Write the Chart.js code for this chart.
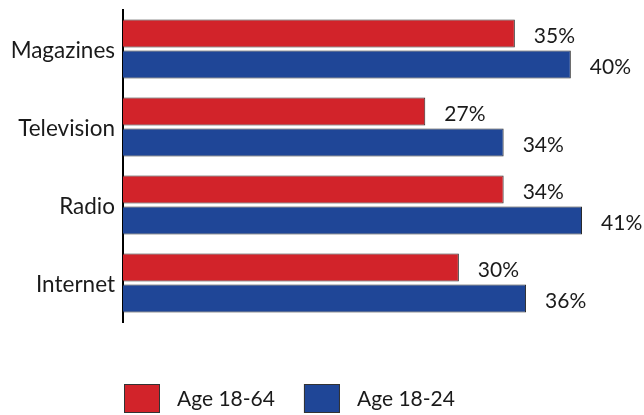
<!DOCTYPE html>
<html>
<head>
<meta charset="utf-8">
<script src="https://cdn.jsdelivr.net/npm/chart.js@4/dist/chart.umd.min.js"></script>
<style>
  html, body { margin: 0; padding: 0; background: #fff; }
  #wrap { width: 644px; height: 415px; position: relative; }
</style>
</head>
<body>
<div id="wrap"><canvas id="grafico"></canvas></div>
<script>
const medios = ['Magazines', 'Television', 'Radio', 'Internet']
const edad1864 = [35, 27, 34, 30]
const edad1824 = [40, 34, 41, 36]
const series = ['Age 18-64', 'Age 18-24']
const colores = ['#d2232a', '#1f4697']
const fuente = 'Lato, "Open Sans", sans-serif'

// porcentaje al final de cada barra
const etiquetas = {
    id: 'etiquetas',
    afterDatasetsDraw(chart) {
        const ctx = chart.ctx
        ctx.save()
        ctx.font = `21px ${fuente}`
        ctx.fillStyle = '#1a1a1a'
        ctx.textAlign = 'left'
        ctx.textBaseline = 'middle'
        chart.data.datasets.forEach((ds, i) => {
            chart.getDatasetMeta(i).data.forEach((bar, j) => {
                ctx.fillText(`${ds.data[j]}%`, bar.x + 19, bar.y + 3)
            })
        })
        ctx.restore()
    }
}

// leyenda abajo con cuadros grandes
const leyenda = {
    id: 'leyenda',
    afterDraw(chart) {
        const ctx = chart.ctx
        ctx.save()
        ctx.font = `21px ${fuente}`
        ctx.textBaseline = 'middle'
        let x = chart.chartArea.left + 1
        const y = 384
        chart.data.datasets.forEach((ds) => {
            ctx.fillStyle = ds.backgroundColor
            ctx.fillRect(x, y, 36, 29)
            ctx.strokeStyle = '#333'
            ctx.lineWidth = 1
            ctx.strokeRect(x + 0.5, y + 0.5, 35, 28)
            ctx.fillStyle = '#1a1a1a'
            ctx.fillText(ds.label, x + 53, y + 15)
            x += 53 + ctx.measureText(ds.label).width + 29
        })
        ctx.restore()
    }
}

const config = {
    type: 'bar',
    data: {
        labels: medios,
        datasets: [
            { label: series[0], data: edad1864, backgroundColor: colores[0] },
            { label: series[1], data: edad1824, backgroundColor: colores[1] }
        ]
    },
    options: {
        indexAxis: 'y',
        responsive: true,
        maintainAspectRatio: false,
        animation: false,
        layout: { padding: { top: 10, right: 6, bottom: 93, left: 0 } },
        datasets: {
            bar: {
                borderColor: '#2a2a2a',
                borderWidth: 1,
                categoryPercentage: 0.795,
                barPercentage: 0.9
            }
        },
        scales: {
            x: { display: false, min: 0, max: 46 },
            y: {
                afterFit: (scale) => {
                    scale.width = 123
                    scale.paddingTop = 0
                    scale.paddingBottom = 0
                },
                grid: { display: false, drawTicks: false },
                border: { display: true, color: '#000', width: 2 },
                ticks: {
                    color: '#1a1a1a',
                    padding: 8,
                    labelOffset: 2,
                    font: { family: fuente, size: 22.5 }
                }
            }
        },
        plugins: {
            legend: { display: false },
            tooltip: { enabled: false }
        }
    },
    plugins: [etiquetas, leyenda]
}

new Chart(document.querySelector('#grafico'), config)
</script>
</body>
</html>
